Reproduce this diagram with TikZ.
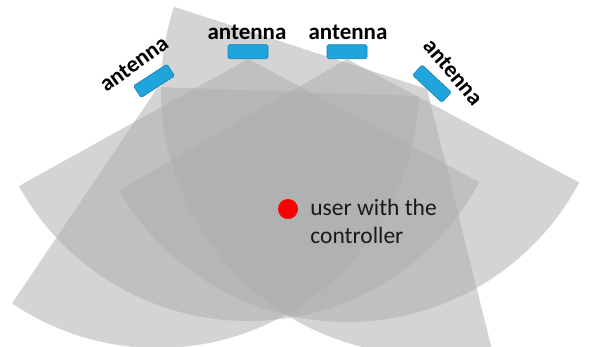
\documentclass[tikz,border=0pt]{standalone}
\usepackage{fontspec}
\setmainfont{Carlito}
\usetikzlibrary{positioning}
\definecolor{antblue}{RGB}{32,164,220}
\definecolor{antedge}{RGB}{22,128,180}

\begin{document}
\begin{tikzpicture}[x=1pt,y=1pt,
  beam/.style={fill=black!32,fill opacity=0.52},
  antenna/.style={rectangle,rounded corners=1.5pt,fill=antblue,draw=antedge,line width=0.6pt,
    minimum width=40pt,minimum height=14pt,inner sep=0pt},
  antlabel/.style={font=\fontsize{23}{28}\selectfont\bfseries,inner sep=0pt},
  userdot/.style={circle,fill=red,minimum size=20pt,inner sep=0pt}]
  \useasboundingbox (0,0) rectangle (593,-346);

  % apex of each beam, on the lower edge of its antenna
  \coordinate (apex1) at (158,-87);
  \coordinate (apex2) at (248,-59);
  \coordinate (apex3) at (347,-59);
  \coordinate (apex4) at (427,-89);

  % beams
  \foreach \i/\a/\b/\r in {1/236/358/261, 2/209/332/262, 3/210/332/263, 4/162/284/266}{
    \fill[beam] (apex\i) -- ++(\a:\r) arc[start angle=\a, end angle=\b, radius=\r] -- cycle;
  }

  % antennas
  \node[antenna,rotate=33,anchor=south] (ant1) at (apex1) {};
  \node[antenna,anchor=south] (ant2) at (apex2) {};
  \node[antenna,anchor=south] (ant3) at (apex3) {};
  \node[antenna,rotate=-43,anchor=south] (ant4) at (apex4) {};

  \node[antlabel,rotate=36] (lab1) at (134,-64) {antenna};
  \node[antlabel] (lab2) at (247,-32) {antenna};
  \node[antlabel] (lab3) at (348,-32) {antenna};
  \node[antlabel,rotate=-50] (lab4) at (453,-72) {antenna};

  % user
  \node[userdot] (user) at (288,-209) {};
  \node[right=12pt of user,yshift=-12pt,inner sep=0pt,align=left,text=black!90,
    font=\fontsize{23.5}{28}\selectfont] (usertext) {user with the\\controller};
\end{tikzpicture}
\end{document}
